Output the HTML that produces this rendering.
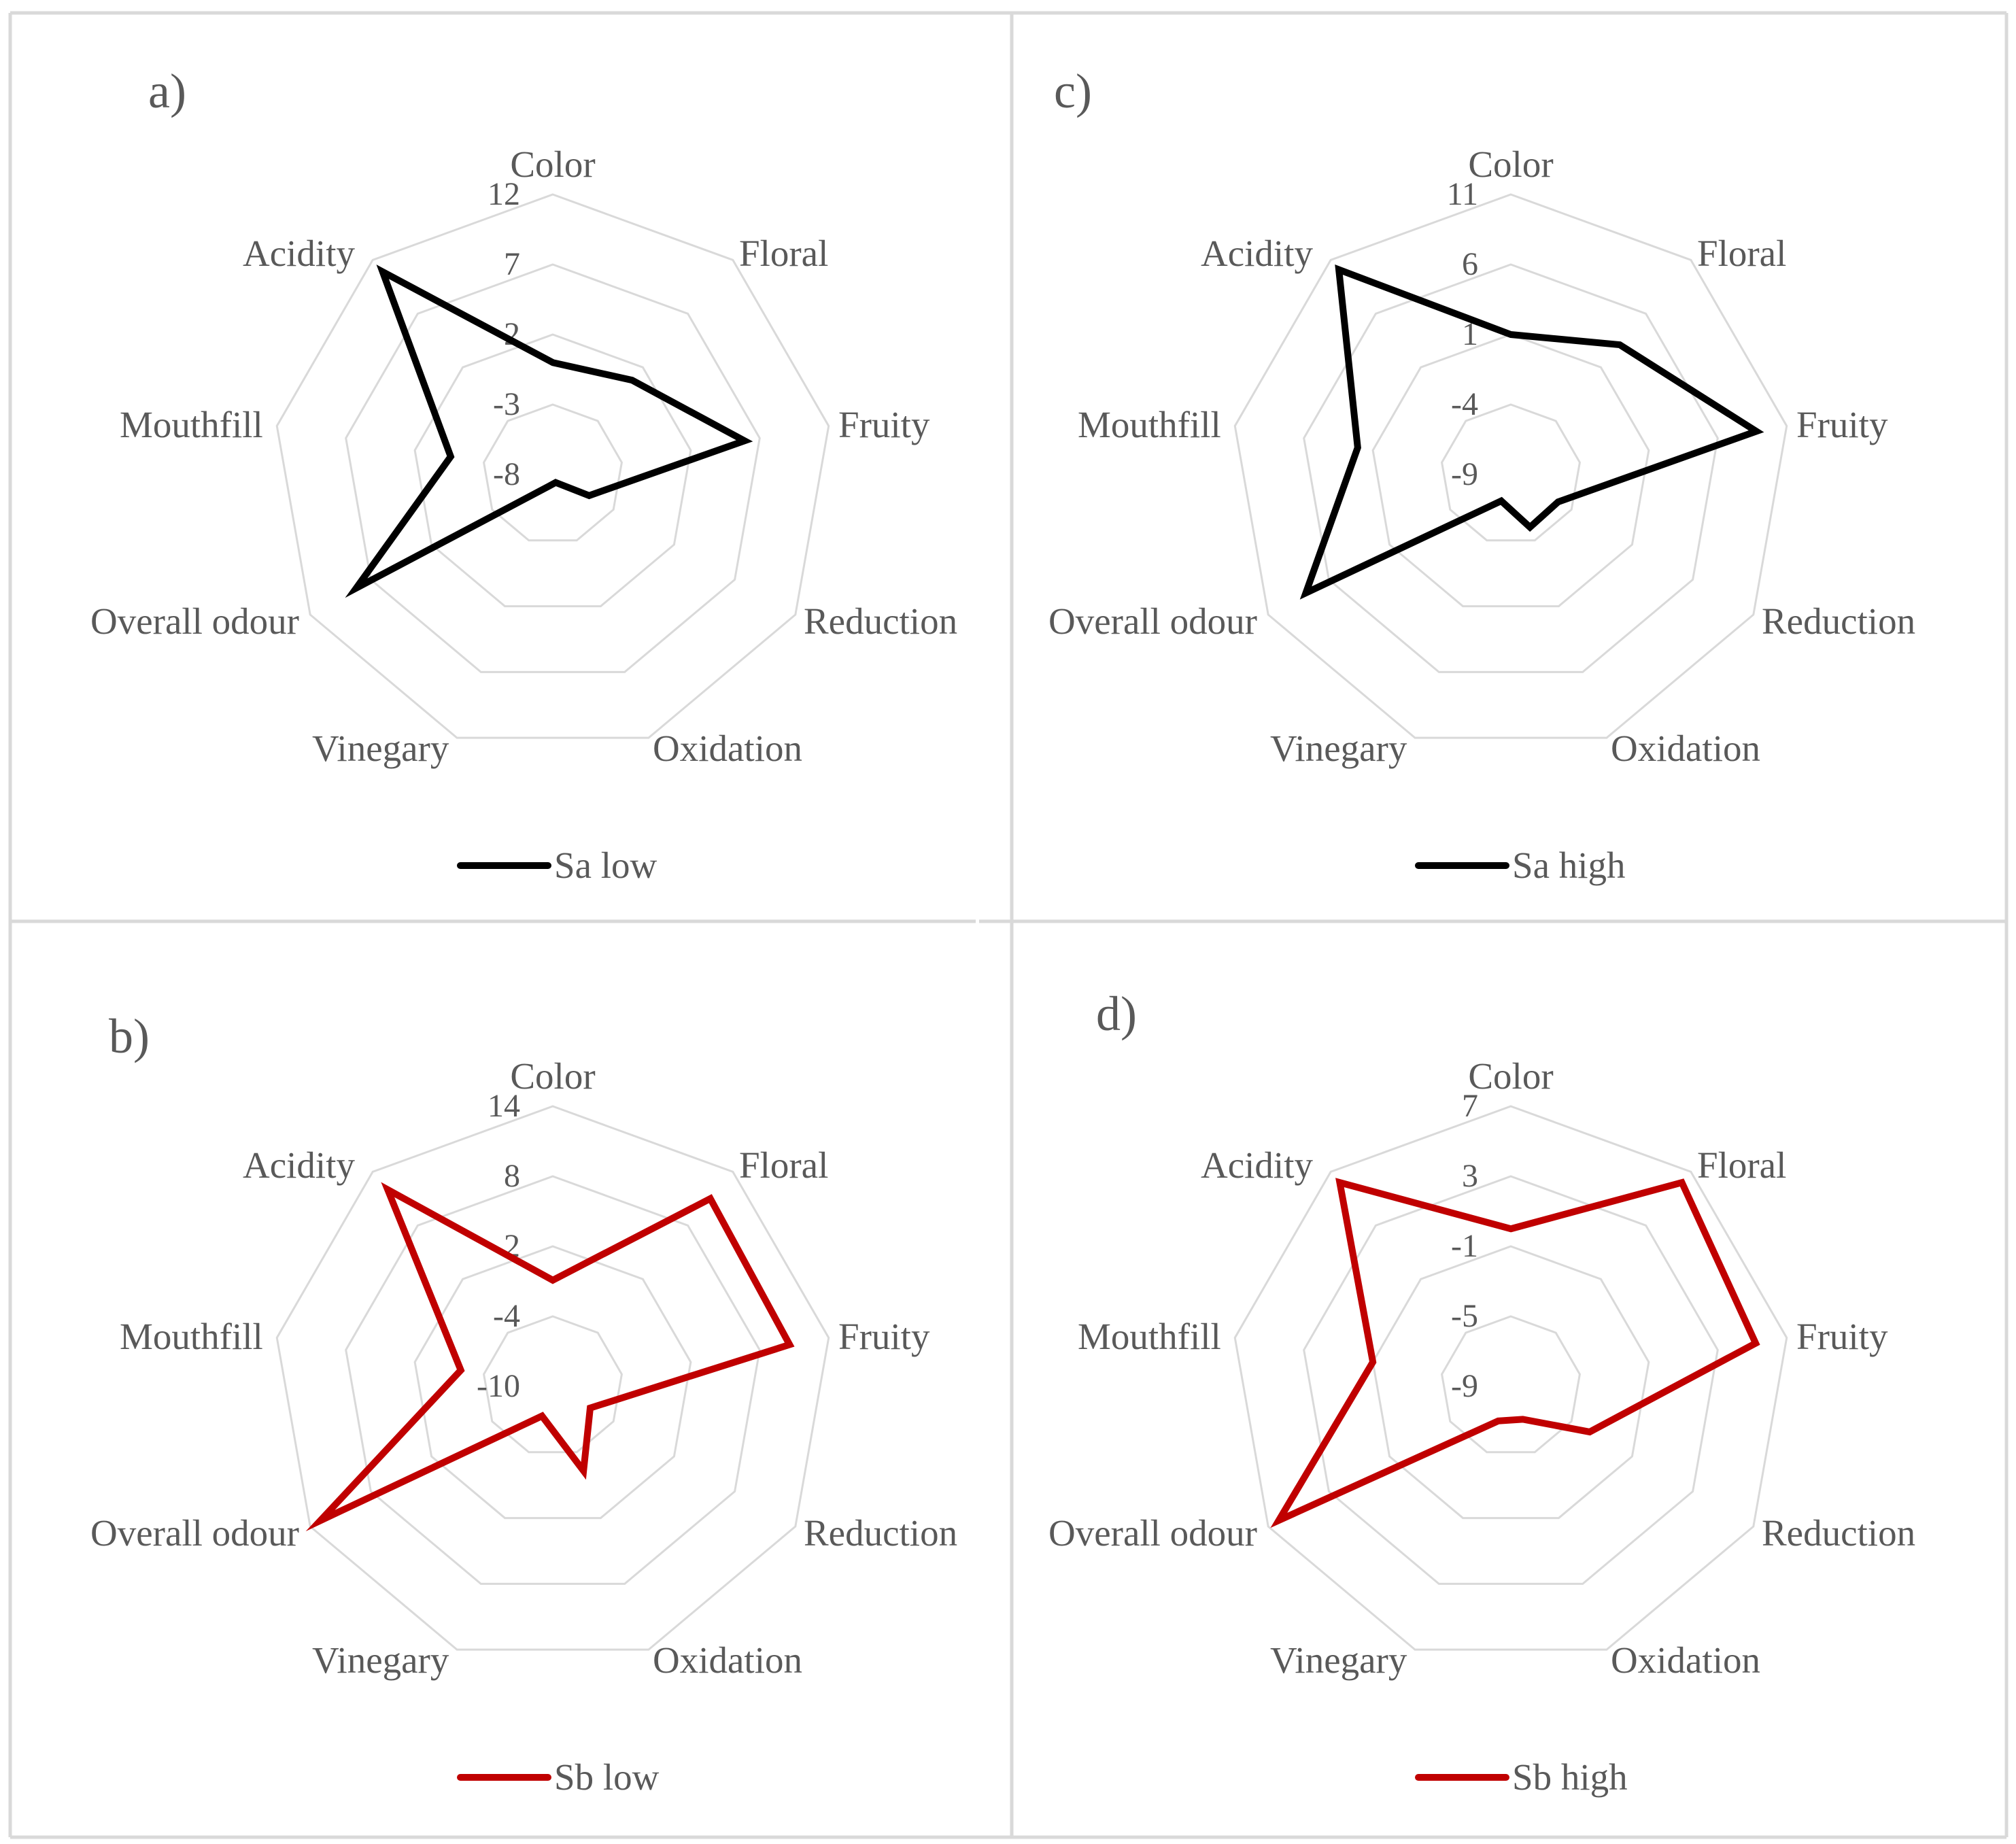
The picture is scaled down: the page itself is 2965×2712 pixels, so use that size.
<!DOCTYPE html>
<html><head><meta charset="utf-8"><style>
html,body{margin:0;padding:0;background:#fff;}
svg{display:block;}
text{font-family:"Liberation Serif",serif;fill:#595959;}
</style></head><body>
<svg id="fig" width="2965" height="2712" viewBox="0 0 2965 2712">
<rect x="0" y="0" width="2965" height="2712" fill="#fff"/>
<g id="frame" stroke="#d9d9d9" stroke-width="5" fill="none">
<line x1="15" y1="19" x2="2951" y2="19"/>
<line x1="15" y1="2702" x2="2951" y2="2702"/>
<line x1="15" y1="19" x2="15" y2="2702"/>
<line x1="2951" y1="19" x2="2951" y2="2702"/>
<line x1="1488" y1="19" x2="1488" y2="2702"/>
<line x1="15" y1="1355" x2="1435" y2="1355"/>
<line x1="1440" y1="1355" x2="2951" y2="1355"/>
</g>
</svg>
<script>
const categories = ["Color","Floral","Fruity","Reduction","Oxidation","Vinegary","Overall odour","Mouthfill","Acidity"];
const saLow  = [0, 0.8, 5.9, -5, -7.4, -7.1, 8.2, -0.6, 10.9];
const saHigh = [1.0, 3.1, 8.8, -5.1, -5, -7, 7.9, 2.1, 10.1];
const sbLow  = [-0.9, 11, 10.6, -6.3, -2.3, -7.3, 13, -2, 12];
const sbHigh = [0, 6.2, 5.2, -3.8, -7, -6.9, 6.3, -1, 6.2];
const ticksA = [-8, -3, 2, 7, 12];
const ticksB = [-10, -4, 2, 8, 14];
const ticksC = [-9, -4, 1, 6, 11];
const ticksD = [-9, -5, -1, 3, 7];

const NS = "http://www.w3.org/2000/svg";
const svg = document.getElementById("fig");
const R = 412;
const labelPos = [[813,241,"middle"],[1087,372,"start"],[1233,624,"start"],[1182,913,"start"],[960,1100,"start"],[459,1100,"start"],[133,913,"start"],[176,624,"start"],[357,372,"start"]];

function mk(tag, attrs, parent){
  const e = document.createElementNS(NS, tag);
  for (const k in attrs) e.setAttribute(k, attrs[k]);
  parent.appendChild(e);
  return e;
}
function drawPanel(cx, cy, ticks, values, color, title, titleX, titleY, legendName){
  const g = mk("g", {}, svg);
  
  
  const min = ticks[0], max = ticks[ticks.length-1];
  const rad = v => (v - min) / (max - min) * R;
  const pt = (i, v) => { const a = i * 2 * Math.PI / categories.length; const r = rad(v); return [cx + r * Math.sin(a), cy - r * Math.cos(a)]; };
  const dx = cx - 813, dy = cy - 698;
  ticks.forEach((t, k) => {
    if (k === 0) return;
    const pts = categories.map((c, i) => pt(i, t).join(",")).join(" ");
    const p = mk("polygon", {points: pts, fill: "none", stroke: "#d9d9d9", "stroke-width": 3}, g);
    
    
  });
  ticks.forEach(t => {
    const y = cy - rad(t);
    const tx = mk("text", {x: cx - 48, y: y + 15, "text-anchor": "end", "font-size": 48}, g);
    tx.textContent = String(t);
    
    
  });
  categories.forEach((c, i) => {
    const lp = labelPos[i];
    const tx = mk("text", {x: lp[0] + dx, y: lp[1] + dy + 19, "text-anchor": lp[2], "font-size": 55}, g);
    tx.textContent = c;
    
    
  });
  const sp = values.map((v, i) => pt(i, v).join(",")).join(" ");
  const poly = mk("polygon", {points: sp, fill: "none", stroke: color, "stroke-width": 10, "stroke-linejoin": "miter", "stroke-miterlimit": 10}, g);
  
  
  const tt = mk("text", {x: titleX, y: titleY, "font-size": 72, fill: "#404040"}, g);
  tt.textContent = title;
  
  
  const ly = cy + 575;
  const ll = mk("line", {x1: cx - 136, y1: ly, x2: cx - 7, y2: ly, stroke: color, "stroke-width": 10, "stroke-linecap": "round"}, g);
  
  
  const lt = mk("text", {x: cx + 2, y: ly + 18, "font-size": 55}, g);
  lt.textContent = legendName;
  
  
}
drawPanel(813, 698, ticksA, saLow, "#000000", "a)", 218, 158, "Sa low");
drawPanel(2222, 698, ticksC, saHigh, "#000000", "c)", 1550, 158, "Sa high");
drawPanel(813, 2039, ticksB, sbLow, "#c00000", "b)", 160, 1548, "Sb low");
drawPanel(2222, 2039, ticksD, sbHigh, "#c00000", "d)", 1612, 1515, "Sb high");
</script>
</body></html>
